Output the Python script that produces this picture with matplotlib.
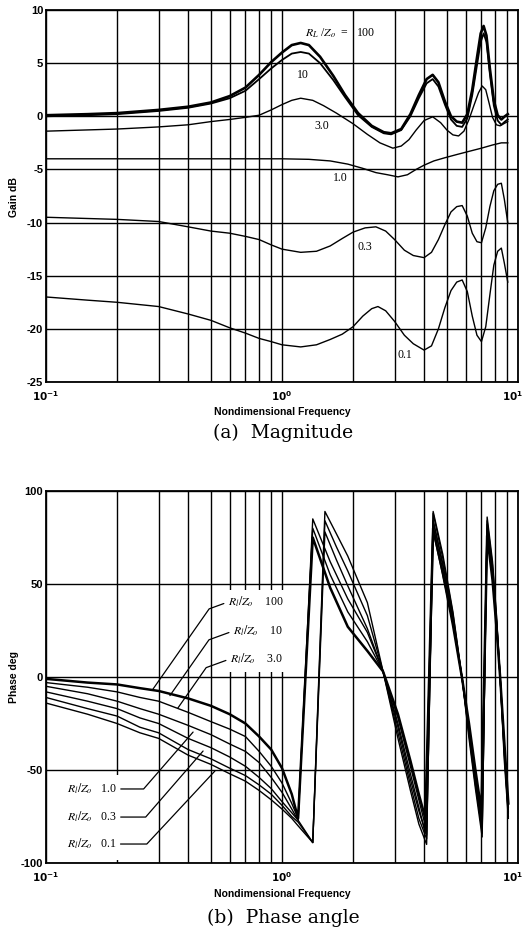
import numpy as np
import matplotlib
matplotlib.use("Agg")
import matplotlib.pyplot as plt
from matplotlib.ticker import FixedLocator, NullFormatter
from matplotlib.patches import Rectangle
from matplotlib.transforms import ScaledTranslation

plt.rcParams['mathtext.fontset'] = 'dejavusans'
plt.rcParams['axes.unicode_minus'] = False

# ---------------- Magnitude data (Gain dB vs nondimensional frequency) ----------------
mag_f_100 = [0.1, 0.15, 0.2, 0.3, 0.4, 0.5, 0.6, 0.7, 0.8, 0.9, 1.0, 1.1, 1.2, 1.3, 1.45,
             1.65, 1.85, 2.1, 2.4, 2.7, 2.9, 3.2, 3.5, 3.8, 4.1, 4.35, 4.6, 4.9, 5.2, 5.5,
             5.8, 6.1, 6.4, 6.7, 6.95, 7.15, 7.35, 7.6, 7.9, 8.2, 8.5, 8.8, 9.05]
mag_100 = [0.1, 0.2, 0.3, 0.6, 0.9, 1.3, 1.9, 2.7, 3.9, 5.1, 6.0, 6.7, 6.9, 6.7, 5.6,
           3.8, 2.0, 0.3, -0.9, -1.5, -1.6, -1.2, 0.2, 2.0, 3.5, 3.9, 3.2, 1.4, 0.0, -0.5,
           -0.6, 0.2, 2.5, 5.5, 7.8, 8.5, 7.6, 4.5, 1.5, 0.1, -0.3, 0.0, 0.2]
mag_f_10 = mag_f_100
mag_10 = [0.0, 0.1, 0.2, 0.5, 0.8, 1.2, 1.7, 2.4, 3.5, 4.5, 5.3, 5.9, 6.05, 5.9, 5.0,
          3.4, 1.8, 0.1, -1.0, -1.6, -1.7, -1.3, 0.0, 1.7, 3.1, 3.5, 2.8, 1.1, -0.3, -0.9,
          -1.0, -0.2, 2.0, 4.8, 7.0, 7.8, 7.0, 4.0, 1.0, -0.4, -0.8, -0.5, -0.3]
mag_f_3 = [0.1, 0.2, 0.3, 0.4, 0.5, 0.6, 0.7, 0.8, 0.9, 1.0, 1.1, 1.2, 1.35, 1.5, 1.7,
           2.0, 2.3, 2.6, 2.95, 3.2, 3.45, 3.7, 4.0, 4.35, 4.7, 5.0, 5.3, 5.6, 5.9, 6.2,
           6.5, 6.8, 7.05, 7.3, 7.55, 7.8, 8.1, 8.4, 8.7, 9.05]
mag_3 = [-1.4, -1.2, -1.0, -0.8, -0.5, -0.3, -0.1, 0.1, 0.6, 1.1, 1.5, 1.7, 1.5, 1.0, 0.3,
         -0.7, -1.7, -2.5, -3.0, -2.8, -2.2, -1.3, -0.4, -0.05, -0.6, -1.3, -1.75, -1.85, -1.4, -0.3,
         1.0, 2.2, 2.85, 2.5, 1.2, -0.1, -0.8, -0.9, -0.7, -0.5]
mag_f_1 = [0.1, 0.3, 0.6, 1.0, 1.3, 1.6, 1.9, 2.2, 2.5, 2.8, 3.1, 3.4, 3.7, 4.0, 4.4,
           4.9, 5.5, 6.2, 7.0, 7.8, 8.5, 9.05]
mag_1 = [-4.0, -4.0, -4.0, -4.0, -4.05, -4.2, -4.5, -4.9, -5.3, -5.5, -5.7, -5.5, -5.0, -4.6, -4.2,
         -3.9, -3.6, -3.3, -3.0, -2.7, -2.5, -2.5]
mag_f_03 = [0.1, 0.2, 0.3, 0.4, 0.5, 0.6, 0.7, 0.8, 0.9, 1.0, 1.2, 1.4, 1.6, 1.8, 2.0,
            2.25, 2.5, 2.75, 3.0, 3.3, 3.6, 4.0, 4.3, 4.6, 4.9, 5.2, 5.5, 5.8, 6.1, 6.4,
            6.7, 7.0, 7.3, 7.6, 7.9, 8.2, 8.5, 8.75, 9.05]
mag_03 = [-9.5, -9.7, -9.9, -10.4, -10.8, -11.0, -11.3, -11.6, -12.1, -12.5, -12.8, -12.7, -12.2, -11.5, -10.9,
          -10.5, -10.4, -10.8, -11.6, -12.6, -13.1, -13.3, -12.8, -11.6, -10.2, -9.0, -8.5, -8.4, -9.4, -11.0,
          -11.8, -11.9, -10.5, -8.5, -7.0, -6.4, -6.3, -7.8, -10.0]
mag_f_01 = [0.1, 0.15, 0.2, 0.3, 0.4, 0.5, 0.6, 0.7, 0.8, 0.9, 1.0, 1.2, 1.4, 1.6, 1.8,
            2.0, 2.2, 2.4, 2.55, 2.75, 3.0, 3.3, 3.6, 4.0, 4.3, 4.6, 4.9, 5.2, 5.5, 5.8,
            6.1, 6.4, 6.7, 7.0, 7.3, 7.6, 7.9, 8.2, 8.5, 8.75, 9.05]
mag_01 = [-17.0, -17.3, -17.5, -17.9, -18.6, -19.2, -19.9, -20.4, -20.9, -21.2, -21.5, -21.7, -21.5, -21.0, -20.5,
          -19.8, -18.8, -18.1, -17.9, -18.3, -19.3, -20.6, -21.4, -22.0, -21.6, -20.0, -18.0, -16.4, -15.6, -15.4,
          -16.5, -18.8, -20.6, -21.2, -19.8, -16.8, -14.0, -12.7, -12.4, -13.8, -15.6]

# ---------------- Phase data (deg) ----------------
ph_f_A = [0.1, 0.15, 0.2, 0.25, 0.3, 0.4, 0.5, 0.6, 0.7, 0.8, 0.9, 1.0, 1.1, 1.17, 1.35,
          1.6, 1.9, 2.3, 2.68, 3.1, 3.5, 3.8, 4.05, 4.37, 4.8, 5.3, 5.8, 6.2, 6.6, 7.0,
          7.4, 7.8, 8.1, 8.4, 8.75, 9.1]
ph_100 = [-1, -3, -4, -6, -7.5, -11.5, -15.5, -20, -25, -32, -39, -49, -63, -76, 75,
          48, 27, 14, 3, -20, -45, -63, -76, 80, 56, 28, -1, -25, -50, -72,
          76, 52, 27, 0, -35, -68]
ph_10 = [-3, -5.5, -8, -11, -13, -19, -24, -28, -32, -40, -48, -57, -68, -76, 80,
         55, 35, 19, 3, -22, -48, -66, -80, 84, 60, 31, -1, -28, -54, -76,
         80, 56, 30, 0, -37, -72]
ph_3 = [-5, -9, -13, -17, -20, -26, -31, -36, -40, -46, -54, -62, -71, -77, 85,
        62, 42, 24, 3, -25, -52, -70, -84, 88, 64, 34, -1, -31, -58, -80,
        84, 60, 33, 0, -40, -75]
ph_f_B = [0.1, 0.15, 0.2, 0.25, 0.3, 0.4, 0.5, 0.6, 0.7, 0.8, 0.9, 1.0, 1.1, 1.17, 1.35,
          1.52, 1.7, 1.9, 2.3, 2.68, 3.1, 3.5, 3.8, 4.1, 4.37, 4.8, 5.3, 5.8, 6.2, 6.6,
          7.05, 7.4, 7.8, 8.1, 8.4, 8.75, 9.1]
ph_1 = [-8, -13, -17, -22, -25, -33, -38, -43, -48, -54, -60, -67, -73, -77, -89,
        78, 63, 49, 26, 3, -27, -55, -72, -85, 78, 55, 29, -1, -27, -53,
        -82, 78, 54, 28, 0, -38, -70]
ph_03 = [-11, -17, -21, -27, -30, -39, -44, -49, -53, -58, -63, -69, -75, -78, -89,
         84, 70, 57, 33, 3, -30, -58, -76, -87, 84, 61, 32, -1, -30, -56,
         -84, 82, 58, 31, 0, -42, -73]
ph_01 = [-14, -20, -25, -30, -33, -42, -47, -52, -56, -61, -66, -71, -76, -80, -89,
         89, 77, 65, 40, 3, -33, -61, -79, -90, 89, 66, 35, -1, -33, -60,
         -86, 86, 62, 34, 0, -45, -76]

ratio_labels = ['100', '10', '3.0', '1.0', '0.3', '0.1']
gain_ticks = [10, 5, 0, -5, -10, -15, -20, -25]
phase_ticks = [100, 50, 0, -50, -100]
x_tick_vals = [0.1, 1, 10]
x_tick_labels = [r'$\mathbf{10^{-1}}$', r'$\mathbf{10^{0}}$', r'$\mathbf{10^{1}}$']

# ---------------- Figure ----------------
W, H = 526, 939
fig = plt.figure(figsize=(W / 100, H / 100), dpi=100)


def rect(l, t, r, b):
    return [l / W, 1 - b / H, (r - l) / W, (b - t) / H]


ax1 = fig.add_axes(rect(46, 10, 518, 382))
ax2 = fig.add_axes(rect(46, 491, 518, 863))

minor_pos = [0.2, 0.3, 0.4, 0.5, 0.6, 0.7, 0.8, 0.9, 2, 3, 4, 5, 6, 7, 8, 9]
tick_font = dict(family='Liberation Sans', weight='bold', size=8)

for ax in (ax1, ax2):
    ax.set_xscale('log')
    ax.set_xlim(0.1, 10)
    ax.set_axisbelow(True)
    ax.xaxis.set_major_locator(FixedLocator(x_tick_vals))
    ax.xaxis.set_minor_locator(FixedLocator(minor_pos))
    ax.xaxis.set_minor_formatter(NullFormatter())
    ax.set_xticklabels(x_tick_labels, fontsize=7.5)
    ax.grid(True, which='both', axis='x', color='black', lw=1.0)
    ax.grid(True, which='major', axis='y', color='black', lw=1.0)
    ax.tick_params(which='both', length=0)
    ax.tick_params(axis='y', pad=2)
    ax.tick_params(axis='x', pad=5)
    for s in ax.spines.values():
        s.set_linewidth(1.3)
    last = ax.get_xticklabels()[-1]
    last.set_transform(last.get_transform() + ScaledTranslation(-0.05, 0, fig.dpi_scale_trans))

# --- magnitude ---
ax1.set_ylim(-25, 10)
ax1.set_yticks(gain_ticks)
ax1.set_yticklabels([str(v) for v in gain_ticks], **tick_font)

mag_sets = [(mag_f_100, mag_100, 1.9), (mag_f_10, mag_10, 1.3), (mag_f_3, mag_3, 1.0),
            (mag_f_1, mag_1, 1.0), (mag_f_03, mag_03, 1.0), (mag_f_01, mag_01, 1.0)]
for fx, gy, lw in mag_sets:
    ax1.plot(fx, gy, color='black', lw=lw, zorder=2)

lab_font = dict(family='Liberation Serif', size=8.5, math_fontfamily='stix')
ax1.text(1.252, 7.84, r'$R_L$ /$Z_o$  =   ' + ratio_labels[0], ha='left', va='center', **lab_font)
mag_label_pos = [(1.227, 3.9), (1.477, -0.91), (1.762, -5.8), (2.247, -12.3), (3.32, -22.45)]
for (fx, gy), lab in zip(mag_label_pos, ratio_labels[1:]):
    ax1.text(fx, gy, lab, ha='center', va='center', **lab_font)

# --- phase ---
ax2.set_ylim(-100, 100)
ax2.set_yticks(phase_ticks)
ax2.set_yticklabels([str(v) for v in phase_ticks], **tick_font)

ph_sets = [(ph_f_A, ph_100, 1.8), (ph_f_A, ph_10, 1.0), (ph_f_A, ph_3, 1.0),
           (ph_f_B, ph_1, 1.0), (ph_f_B, ph_03, 1.0), (ph_f_B, ph_01, 1.0)]
for fx, py, lw in ph_sets:
    ax2.plot(fx, py, color='black', lw=lw, zorder=2)

# white label panels
ax2.add_patch(Rectangle((0.373, 0.513), 0.157, 0.221, transform=ax2.transAxes,
                        facecolor='white', edgecolor='none', zorder=1))
ax2.add_patch(Rectangle((0.034, 0.008), 0.176, 0.229, transform=ax2.transAxes,
                        facecolor='white', edgecolor='none', zorder=1))

arrow_kw = dict(arrowstyle='-', color='black', lw=0.9, shrinkA=1, shrinkB=0)
upper = [(ratio_labels[0], (0.284, -6.5), (0.59, 40.3)),
         (ratio_labels[1], (0.335, -10.0), (0.62, 24.7)),
         (ratio_labels[2], (0.362, -16.7), (0.602, 9.7))]
for lab, xy, xyt in upper:
    ax2.annotate(r'$R_l/Z_o$    ' + lab, xy=xy, xytext=xyt, textcoords='data',
                 ha='left', va='center', zorder=3,
                 arrowprops=dict(relpos=(0, 0.5),
                                 connectionstyle='angle,angleA=200,angleB=235,rad=0', **arrow_kw),
                 **lab_font)
lower = [(ratio_labels[3], (0.42, -29.6), (0.1227, -60.2), 49),
         (ratio_labels[4], (0.463, -39.8), (0.1227, -75.3), 49),
         (ratio_labels[5], (0.52, -50.5), (0.1227, -89.8), 47)]
for lab, xy, xyt, ang in lower:
    ax2.annotate(r'$R_l/Z_o$   ' + lab, xy=xy, xytext=xyt, textcoords='data',
                 ha='left', va='center', zorder=3,
                 arrowprops=dict(relpos=(1, 0.5),
                                 connectionstyle='angle,angleA=0,angleB=%d,rad=0' % ang, **arrow_kw),
                 **lab_font)

# axis labels and captions
lbl_font = dict(family='Liberation Sans', weight='bold', size=7.5)
fig.text(14 / W, 1 - 197 / H, 'Gain dB', rotation=90, ha='center', va='center', **lbl_font)
fig.text(14 / W, 1 - 677 / H, 'Phase deg', rotation=90, ha='center', va='center', **lbl_font)
fig.text(282 / W, 1 - 412 / H, 'Nondimensional Frequency', ha='center', va='center', **lbl_font)
fig.text(282 / W, 1 - 894 / H, 'Nondimensional Frequency', ha='center', va='center', **lbl_font)
cap_font = dict(family='DejaVu Serif', size=13.5)
fig.text(283 / W, 1 - 433 / H, '(a)  Magnitude', ha='center', va='center', **cap_font)
fig.text(283 / W, 1 - 918 / H, '(b)  Phase angle', ha='center', va='center', **cap_font)

fig.savefig('out.png', dpi=100)
